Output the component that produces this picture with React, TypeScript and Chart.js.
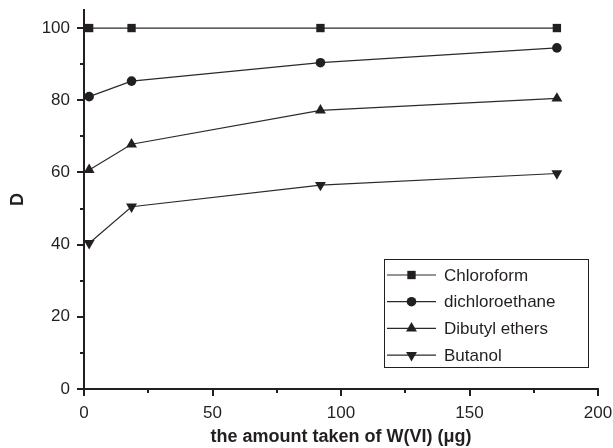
import React, { useEffect, useRef } from "react";
import { Chart, registerables } from "chart.js";
import { drawPoint } from "chart.js/helpers";

Chart.register(...registerables);

const xValues = [2, 18.5, 92, 184];
const chloroform = [100, 100, 100, 100];
const dichloroethane = [81, 85.3, 90.4, 94.5];
const dibutylEthers = [60.7, 67.8, 77.2, 80.5];
const butanol = [40.4, 50.5, 56.5, 59.7];
const seriesNames = ["Chloroform", "dichloroethane", "Dibutyl ethers", "Butanol"];
const yTickValues = [0, 10, 20, 30, 40, 50, 60, 70, 80, 90, 100];
const xTickValues = [0, 25, 50, 75, 100, 125, 150, 175, 200];
const xTitle = "the amount taken of W(VI) (μg)";
const yTitle = "D";

const INK = "#231f20";
const LINE = "#2a2a2a";
const FONT = "'Liberation Sans', Arial, sans-serif";

const markers = [
  { pointStyle: "rect", radius: 5.9, rotation: 0 },
  { pointStyle: "circle", radius: 4.8, rotation: 0 },
  { pointStyle: "triangle", radius: 6.3, rotation: 0 },
  { pointStyle: "triangle", radius: 6.3, rotation: 180 },
];

const zeroPad = (s: any) => {
  s.paddingLeft = 0;
  s.paddingRight = 0;
  s.paddingTop = 0;
  s.paddingBottom = 0;
};

const tickPlugin = {
  id: "customTicks",
  beforeDatasetsDraw(chart: any) {
    const ctx = chart.ctx;
    const xs = chart.scales.x;
    const ys = chart.scales.y;
    const ca = chart.chartArea;
    ctx.save();
    ctx.strokeStyle = INK;
    ctx.lineWidth = 2;
    ctx.beginPath();
    yTickValues.forEach((v) => {
      const y = Math.round(ys.getPixelForValue(v));
      const len = v % 20 === 0 ? 7 : 4;
      ctx.moveTo(ca.left, y);
      ctx.lineTo(ca.left - len, y);
    });
    xTickValues.forEach((v) => {
      const x = Math.round(xs.getPixelForValue(v));
      const len = v % 50 === 0 ? 7 : 4;
      ctx.moveTo(x, ca.bottom);
      ctx.lineTo(x, ca.bottom + len);
    });
    ctx.stroke();
    ctx.restore();
  },
};

const legendPlugin = {
  id: "customLegend",
  afterDraw(chart: any) {
    const ctx = chart.ctx;
    const ca = chart.chartArea;
    const right = ca.right - 10;
    const bottom = ca.bottom - 22;
    const left = right - 204;
    const top = bottom - 108;
    ctx.save();
    ctx.strokeStyle = INK;
    ctx.lineWidth = 1;
    ctx.strokeRect(Math.round(left) + 0.5, Math.round(top) + 0.5, 204, 108);
    ctx.font = `17px ${FONT}`;
    ctx.textBaseline = "middle";
    ctx.textAlign = "left";
    chart.data.datasets.forEach((ds: any, i: number) => {
      const y = top + 16 + i * 26.7;
      ctx.strokeStyle = LINE;
      ctx.lineWidth = 1.2;
      ctx.beginPath();
      ctx.moveTo(left + 3, y);
      ctx.lineTo(left + 52, y);
      ctx.stroke();
      ctx.fillStyle = INK;
      ctx.strokeStyle = INK;
      drawPoint(ctx, { ...markers[i], borderWidth: 0 }, left + 27.5, y);
      ctx.fillStyle = INK;
      ctx.fillText(ds.label, left + 60, y + 1);
    });
    ctx.restore();
  },
};

export default function App() {
  const ref = useRef<HTMLCanvasElement>(null);
  useEffect(() => {
    document.body.style.margin = "0";
    const series = [chloroform, dichloroethane, dibutylEthers, butanol];
    const chart = new Chart(ref.current!, {
      type: "line",
      data: {
        datasets: series.map((vals, i) => ({
          label: seriesNames[i],
          data: vals.map((v, j) => ({ x: xValues[j], y: v })),
          borderColor: LINE,
          borderWidth: 1.2,
          backgroundColor: INK,
          pointBackgroundColor: INK,
          pointBorderColor: INK,
          pointBorderWidth: 0,
          pointStyle: markers[i].pointStyle as any,
          pointRotation: markers[i].rotation,
          pointRadius: markers[i].radius,
          tension: 0,
          fill: false,
        })),
      },
      options: {
        animation: false,
        responsive: false,
        events: [],
        layout: { padding: { top: 10, right: 15, bottom: 0, left: 0 } },
        plugins: { legend: { display: false }, tooltip: { enabled: false } },
        scales: {
          x: {
            type: "linear",
            min: 0,
            max: 200,
            afterBuildTicks: (s: any) => {
              s.ticks = xTickValues.map((v) => ({ value: v }));
            },
            afterFit: (s: any) => {
              s.height = 59;
              zeroPad(s);
            },
            ticks: {
              autoSkip: false,
              maxRotation: 0,
              padding: 14,
              color: INK,
              font: { family: FONT, size: 17 },
              callback: (v: any) => (Number(v) % 50 === 0 ? String(v) : ""),
            },
            grid: { display: false, drawTicks: false },
            border: { display: true, width: 2, color: INK },
            title: {
              display: true,
              text: xTitle,
              color: INK,
              font: { family: FONT, size: 18, weight: "bold" },
              padding: { top: 0, bottom: 0 },
            },
          },
          y: {
            type: "linear",
            min: 0,
            max: 105,
            afterBuildTicks: (s: any) => {
              s.ticks = yTickValues.map((v) => ({ value: v }));
            },
            afterFit: (s: any) => {
              s.width = 84;
              zeroPad(s);
            },
            ticks: {
              autoSkip: false,
              padding: 14,
              color: INK,
              font: { family: FONT, size: 17 },
              callback: (v: any) => (Number(v) % 20 === 0 ? String(v) : ""),
            },
            grid: { display: false, drawTicks: false },
            border: { display: true, width: 2, color: INK },
            title: {
              display: true,
              text: yTitle,
              color: INK,
              font: { family: FONT, size: 18, weight: "bold" },
              padding: { top: 7, bottom: 0 },
            },
          },
        },
      },
      plugins: [tickPlugin, legendPlugin],
    });
    return () => chart.destroy();
  }, []);
  return (
    <div style={{ position: "fixed", left: 0, top: 0, width: 613, height: 448, background: "#fff" }}>
      <canvas ref={ref} width={613} height={448} />
    </div>
  );
}
